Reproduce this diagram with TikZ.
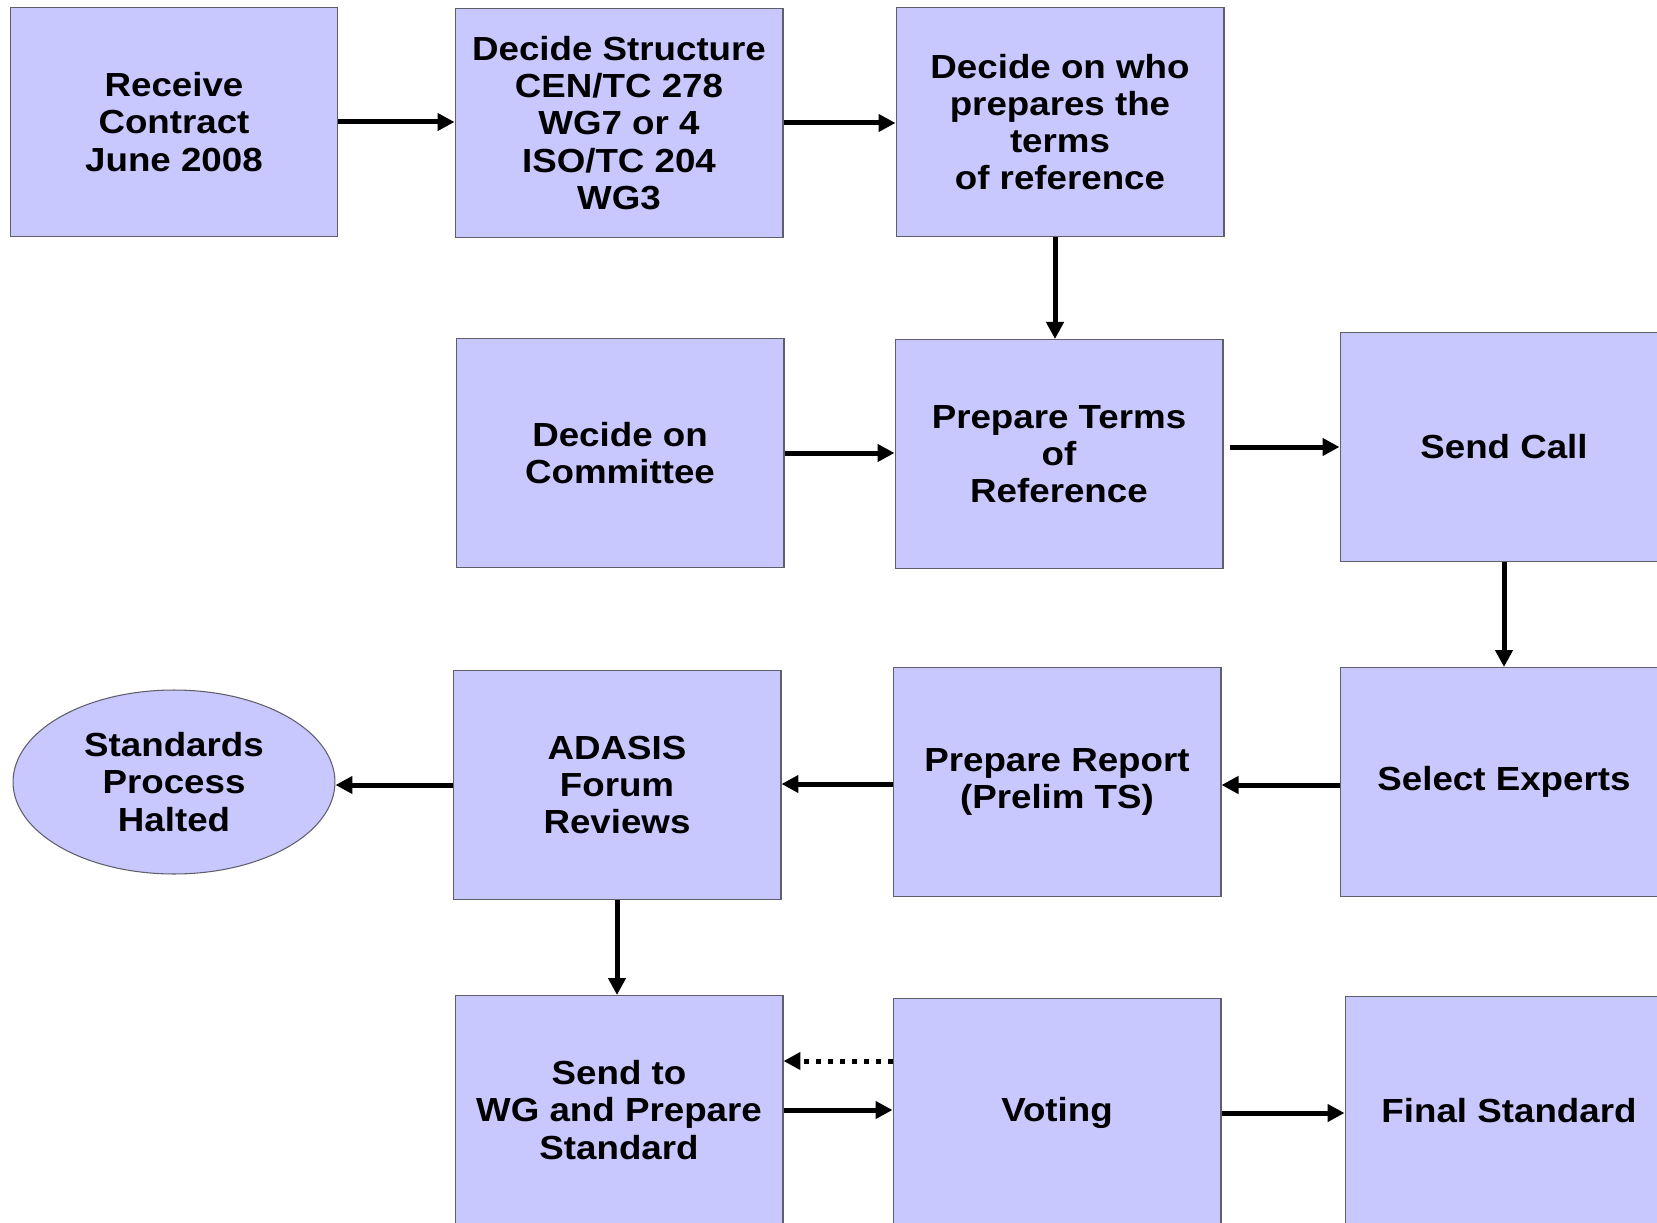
\documentclass[tikz,border=0pt]{standalone}
\usepackage{fontspec}
\setmainfont{Liberation Sans}[FakeStretch=1.1]
\usetikzlibrary{arrows.meta,shapes.geometric}
\definecolor{boxfill}{RGB}{200,200,255}
\definecolor{boxline}{RGB}{95,95,105}
\begin{document}
\begin{tikzpicture}[-{Triangle[length=0.34cm,width=0.34cm]},x=0.02cm,y=-0.02cm,line width=0.1cm]
				\tikzstyle{task} = [rectangle,draw=boxline,fill=boxfill,line width=0.6pt,minimum width=6.56cm,minimum height=4.58cm,align=center,font=\fontsize{19}{21.2}\selectfont\bfseries]
				\tikzstyle{halt} = [ellipse,draw=boxline,fill=boxfill,line width=0.6pt,minimum width=6.44cm,minimum height=3.68cm,align=center,inner sep=0pt,font=\fontsize{19}{21.2}\selectfont\bfseries]
				\tikzstyle{dots} = [dash pattern=on 0.1cm off 0.14cm]
				
				\useasboundingbox (0,0) rectangle (1657,1223);
				\clip (0,0) rectangle (1657,1223);
				
				\node[task] (rc) at (174,122) {Receive\\Contract\\June 2008};
				\node[task] (ds) at (619,123) {Decide Structure\\CEN/TC 278\\WG7 or 4\\ISO/TC 204\\WG3};
				\node[task] (dw) at (1060,122) {Decide on who\\prepares the\\terms\\of reference};
				
				\node[task] (dc) at (620,453) {Decide on\\Committee};
				\node[task] (pt) at (1059,454) {Prepare Terms\\of\\Reference};
				\node[task] (sc) at (1504,447) {Send Call};
				
				\node[halt] (ht) at (174,782) {Standards\\Process\\Halted};
				\node[task] (ad) at (617,785) {ADASIS\\Forum\\Reviews};
				\node[task] (pr) at (1057,782) {Prepare Report\\(Prelim TS)};
				\node[task] (se) at (1504,782) {Select Experts};
				
				\node[task] (wg) at (619,1110) {Send to\\WG and Prepare\\Standard};
				\node[task] (vt) at (1057,1113) {Voting};
				\node[task] (fs) at (1509,1111) {Final Standard};
				
				\draw (rc.east) -- (rc.east -| ds.west);
				\draw (ds.east) -- (ds.east -| dw.west);
				\draw ([xshift=-0.1cm]dw.south) -- ([xshift=-0.1cm]dw.south |- pt.north);
				\draw (dc.east) -- (dc.east -| pt.west);
				\draw ([xshift=0.12cm]sc.west -| pt.east) -- (sc.west);
				\draw (sc.south) -- (se.north);
				\draw ([yshift=-0.06cm]se.west) -- ([yshift=-0.06cm]se.west -| pr.east);
				\draw ([yshift=-0.04cm]pr.west) -- ([yshift=-0.04cm]pr.west -| ad.east);
				\draw (ad.west) -- (ad.west -| ht.east);
				\draw (ad.south) -- (ad.south |- wg.north);
				\draw[dots] ([yshift=1.04cm]vt.west) -- ([yshift=1.04cm]vt.west -| wg.east);
				\draw (wg.east) -- (wg.east -| vt.west);
				\draw (vt.east) -- (vt.east -| fs.west);
			\end{tikzpicture}
\end{document}
